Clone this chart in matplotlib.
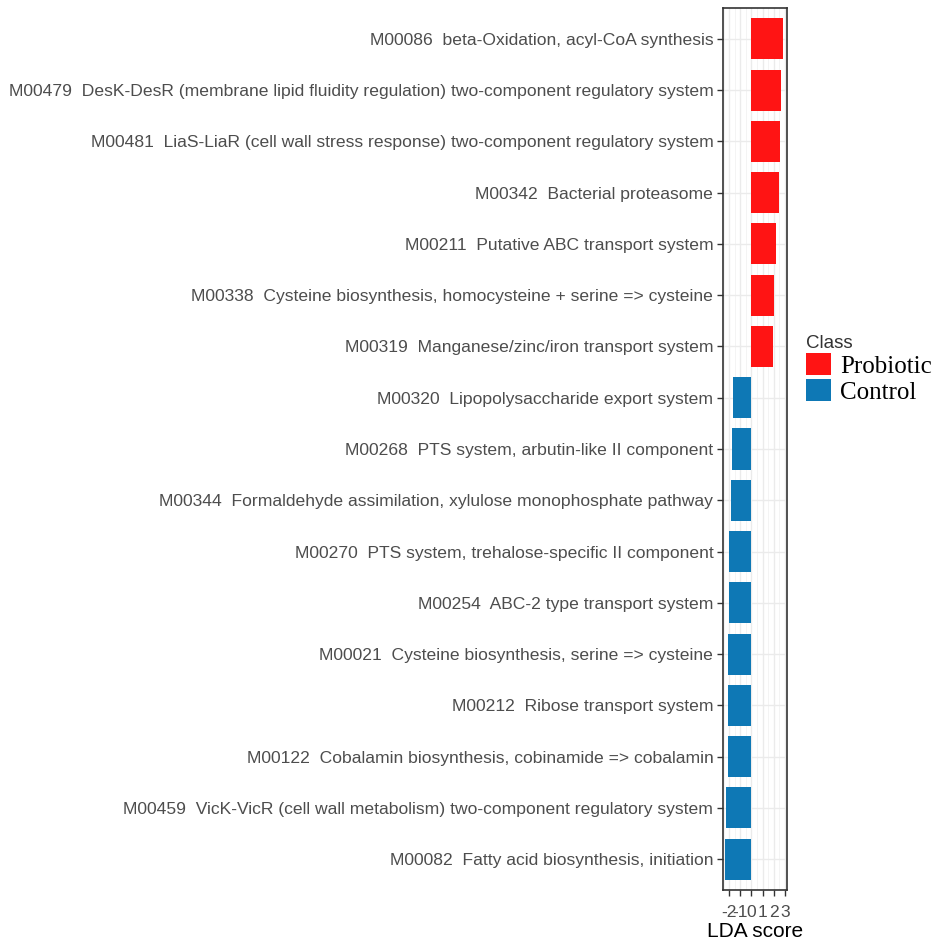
import matplotlib
matplotlib.use('Agg')
import matplotlib.pyplot as plt
from matplotlib.patches import Patch

labels = [
    'M00086  beta-Oxidation, acyl-CoA synthesis',
    'M00479  DesK-DesR (membrane lipid fluidity regulation) two-component regulatory system',
    'M00481  LiaS-LiaR (cell wall stress response) two-component regulatory system',
    'M00342  Bacterial proteasome',
    'M00211  Putative ABC transport system',
    'M00338  Cysteine biosynthesis, homocysteine + serine => cysteine',
    'M00319  Manganese/zinc/iron transport system',
    'M00320  Lipopolysaccharide export system',
    'M00268  PTS system, arbutin-like II component',
    'M00344  Formaldehyde assimilation, xylulose monophosphate pathway',
    'M00270  PTS system, trehalose-specific II component',
    'M00254  ABC-2 type transport system',
    'M00021  Cysteine biosynthesis, serine => cysteine',
    'M00212  Ribose transport system',
    'M00122  Cobalamin biosynthesis, cobinamide => cobalamin',
    'M00459  VicK-VicR (cell wall metabolism) two-component regulatory system',
    'M00082  Fatty acid biosynthesis, initiation',
]
lda = [2.8, 2.65, 2.6, 2.45, 2.2, 2.0, 1.98,
       -1.62, -1.74, -1.86, -2.0, -2.0, -2.08, -2.1, -2.13, -2.28, -2.34]
groups = ['Probiotic'] * 7 + ['Control'] * 10
colors = {'Probiotic': '#FF1414', 'Control': '#0E78B5'}

fig = plt.figure(figsize=(9.33, 9.42), dpi=100)
ax = fig.add_axes([0.775, 0.0552, 0.0685, 0.9363])

n = len(labels)
ypos = [n - 1 - i for i in range(n)]
ax.barh(ypos, lda, height=0.8, color=[colors[g] for g in groups], zorder=3)

ax.set_ylim(-0.6, n - 0.4)
ax.set_xlim(-2.55, 3.2)
ax.set_yticks(ypos)
ax.set_yticklabels(labels, fontsize=12.6, color='#4D4D4D', family='Liberation Sans')
ax.set_xticks([-2, -1, 0, 1, 2, 3])
ax.set_xticklabels(['-2', '-1', '0', '1', '2', '3'], fontsize=12.6, color='#4D4D4D',
                   family='Liberation Sans')
ax.set_xticks([-2.5, -1.5, -0.5, 0.5, 1.5, 2.5], minor=True)
ax.tick_params(axis='both', which='major', length=4, color='#333333', width=1, pad=3)
ax.tick_params(axis='x', which='major', pad=7)
ax.tick_params(axis='x', which='minor', length=0)
ax.grid(True, which='major', color='#EBEBEB', linewidth=1, zorder=0)
ax.grid(True, which='minor', axis='x', color='#F2F2F2', linewidth=0.6, zorder=0)
for s in ax.spines.values():
    s.set_color('#333333')
    s.set_linewidth(1.2)
ax.set_xlabel('LDA score', fontsize=15, family='Liberation Sans', labelpad=1)

handles = [Patch(facecolor=colors['Probiotic'], edgecolor='none'),
           Patch(facecolor=colors['Control'], edgecolor='none')]
leg = fig.legend(handles, ['Probiotic', 'Control'], title='Class',
                 loc='upper left', bbox_to_anchor=(0.8505, 0.658),
                 frameon=False, prop={'family': 'Liberation Serif', 'size': 18},
                 handlelength=1.0, handleheight=1.0, handletextpad=0.35,
                 labelspacing=0.05, borderpad=0.0)
leg.get_title().set_fontsize(13.5)
leg.get_title().set_family('Liberation Sans')
leg.get_title().set_color('#333333')
leg._legend_box.align = 'left'

fig.savefig('out.png', dpi=100)
